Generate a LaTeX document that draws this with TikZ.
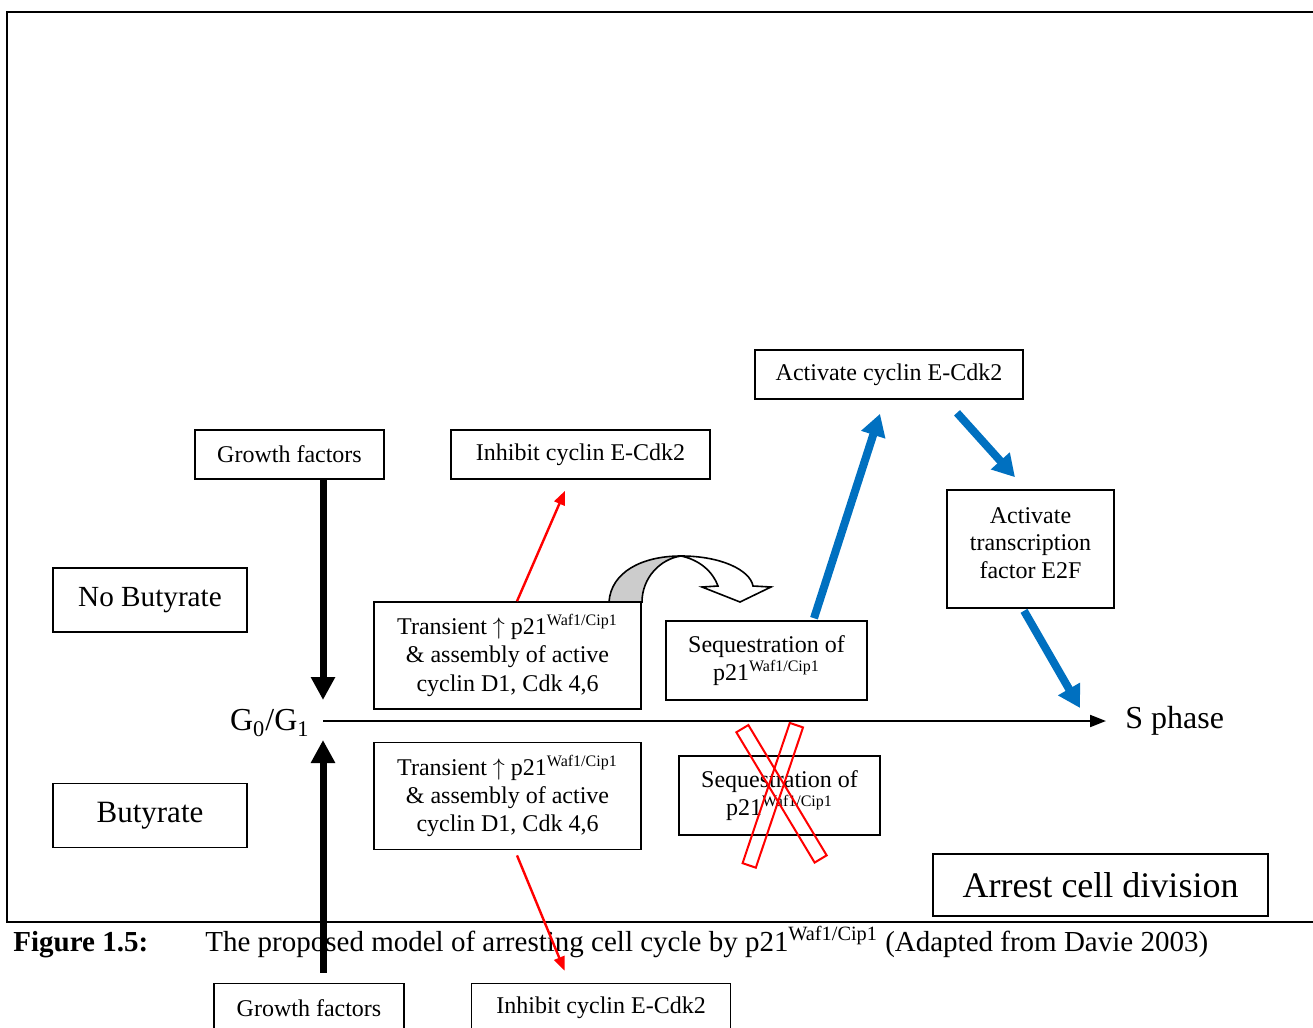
\documentclass[tikz,border=0pt]{standalone}
\usepackage{fontspec}
\setmainfont{Liberation Serif}
\usetikzlibrary{arrows.meta, positioning, calc}
\definecolor{cellblue}{RGB}{0,112,192}
\tikzset{
  box/.style = {
    draw, line width=0.8pt, align=center, inner sep=0pt,
    font=\fontsize{12}{14.2}\selectfont
  },
  bigbox/.style = {
    box, minimum width=97pt, minimum height=32pt
  },
  phaselbl/.style = {
    inner sep=0pt, font=\fontsize{16}{19}\selectfont
  },
  mainarrow/.style = {
    line width=1pt, -{Triangle[length=8pt,width=6pt]}
  },
  thickarrow/.style = {
    line width=3.5pt, -{Triangle[length=11.5pt,width=11.5pt]}
  },
  redarrow/.style = {
    red, line width=1.2pt, -{Triangle[length=7pt,width=5.5pt]}
  },
  bluearrow/.style = {
    cellblue, line width=4pt, -{Triangle[length=11pt,width=12pt]}
  },
  crossbar/.style = {
    draw=red, line width=1pt, minimum width=7pt, inner sep=0pt
  }
}

\begin{document}
\begin{tikzpicture}[x=0.5pt, y=-0.5pt]
  \useasboundingbox (0,0) rectangle (1313,1028);
  \clip (0,0) rectangle (1313,1028);

  % Frame
  \draw[line width=0.9pt] (1320,12) -- (7,12) -- (7,922) -- (1320,922);

  % Cell cycle axis
  \coordinate (junction) at (323,721);
  \node[phaselbl, left=6.5pt of junction, yshift=-1pt] (g0) {G\textsubscript{0}/G\textsubscript{1}};
  \node[phaselbl, anchor=west] (sph) at (1125,721) {S phase};

  % Upper half: no butyrate
  \node[bigbox, font=\fontsize{14.6}{17}\selectfont] (nobut) at (150,600) {No Butyrate};
  \node[box, minimum width=94.5pt, minimum height=24.5pt] (gftop) at (289.5,454.5) {Growth factors};
  \node[box, minimum width=129.5pt, minimum height=24.5pt] (inhtop) at (580.5,454.5) {Inhibit cyclin E-Cdk2};
  \node[box, minimum width=133.5pt, minimum height=53.5pt] (tup) at (507.5,655.5)
    {Transient $\uparrow$ p21\textsuperscript{Waf1/Cip1}\\\& assembly of active\\cyclin D1, Cdk 4,6};
  \node[box, minimum width=100.5pt, minimum height=39.5pt] (seqtop) at (766.5,660.5)
    {Sequestration of\\p21\textsuperscript{Waf1/Cip1}};
  \node[box, minimum width=134pt, minimum height=24.5pt] (actcyc) at (889,374.5) {Activate cyclin E-Cdk2};
  \node[box, minimum width=83.5pt, minimum height=59pt, text depth=6pt, font=\fontsize{12}{13.6}\selectfont] (e2f) at (1030.5,549)
    {Activate\\transcription\\factor E2F};

  % Lower half: butyrate
  \node[bigbox, font=\fontsize{15.5}{18}\selectfont] (but) at (150,815.5) {Butyrate};
  \node[box, minimum width=133.5pt, minimum height=53.5pt, below=16pt of tup] (tlow)
    {Transient $\uparrow$ p21\textsuperscript{Waf1/Cip1}\\\& assembly of active\\cyclin D1, Cdk 4,6};
  \node[box, minimum width=100.5pt, minimum height=39.5pt] (seqlow) at (779.5,795.5)
    {Sequestration of\\p21\textsuperscript{Waf1/Cip1}};
  \node[box, minimum width=167.5pt, minimum height=31pt, font=\fontsize{18}{21}\selectfont] (arrest) at (1100.5,885)
    {Arrest cell division};
  \node[box, minimum width=95pt, minimum height=24.5pt] (gflow) at (309,1008) {Growth factors};
  \node[box, minimum width=129.5pt, minimum height=24.5pt, right=33pt of gflow] (inhlow) {Inhibit cyclin E-Cdk2};

  % Caption
  \node[anchor=base west, inner sep=0pt, font=\fontsize{14.5}{17}\selectfont\bfseries] (figno) at (13,951) {Figure 1.5:};
  \node[anchor=base west, inner sep=0pt, font=\fontsize{14.5}{17}\selectfont] (figcap) at (205,951)
    {The proposed model of arresting cell cycle by p21\textsuperscript{Waf1/Cip1} (Adapted from Davie 2003)};

  % Sequestration crossed out
  \node[crossbar, minimum height=76pt, rotate=31] (crossa) at (781.5,793.8) {};
  \node[crossbar, minimum height=74pt, rotate=-18.6] (crossb) at (772.8,795.3) {};

  % Curved arrow
  \draw[line width=0.8pt, fill=black!20] (609,602) .. controls (611,572) and (642,556) .. (681,556)
    .. controls (660,559) and (642,578) .. (642,602) -- cycle;
  \draw[line width=0.8pt, fill=white] (681,556) .. controls (721,556) and (750,570) .. (753,586)
    -- (771,587) -- (740,602) -- (702,587) -- (718,586)
    .. controls (713,572) and (700,560) .. (681,556);

  % Arrows
  \draw[mainarrow] (junction) -- ($(sph.west)+(-19,0)$);
  \draw[thickarrow] (gftop.south -| junction) -- ($(junction)+(0,-21)$);
  \draw[thickarrow] ($(gflow.north)+(14,-10)$) -- ($(junction)+(0,19)$);
  \draw[redarrow] ($(tup.north)+(9.5,0)$) -- ($(inhtop.south)+(-15.5,11)$);
  \draw[redarrow] ($(tlow.south)+(9.5,5)$) -- ($(inhlow.north)+(-36.5,-12)$);
  \draw[bluearrow] ($(seqtop.north)+(47.5,-2)$) -- ($(actcyc.south)+(-9,14)$);
  \draw[bluearrow] ($(actcyc.south)+(68,13)$) -- ($(e2f.north)+(-15.5,-12)$);
  \draw[bluearrow] ($(e2f.south)+(-6.5,2)$) -- ($(sph.west)+(-45,-13)$);

\end{tikzpicture}
\end{document}
